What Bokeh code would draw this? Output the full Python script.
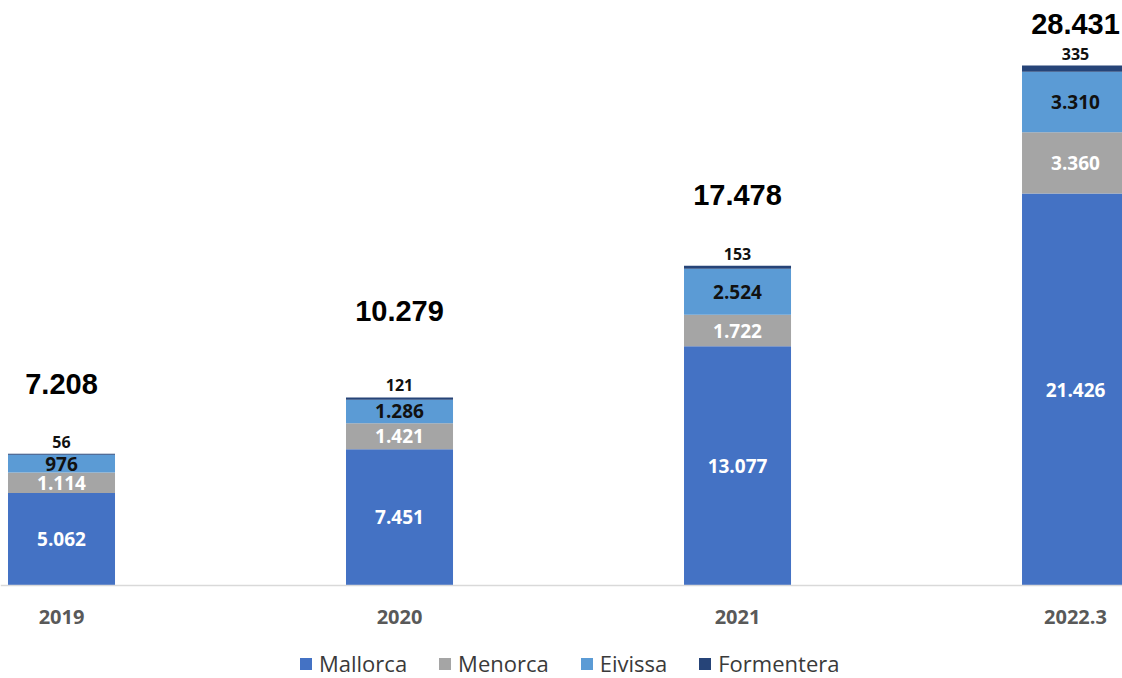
from bokeh.plotting import figure
from bokeh.models import ColumnDataSource, Range1d, FixedTicker, Legend, LegendItem
from bokeh.core.properties import value
from bokeh.embed import file_html
from bokeh.resources import INLINE

# ---- data ----
years = ["2019", "2020", "2021", "2022.3"]
mallorca = [5062, 7451, 13077, 21426]
menorca = [1114, 1421, 1722, 3360]
eivissa = [976, 1286, 2524, 3310]
formentera = [56, 121, 153, 335]
totals = [7208, 10279, 17478, 28431]
series_names = ["Mallorca", "Menorca", "Eivissa", "Formentera"]

# ---- style ----
colors = ["#4472C4", "#A5A5A5", "#5B9BD5", "#264478"]
seg_label_colors = ["white", "white", "#111111", "#111111"]
total_lift = [70, 86, 71, 42]   # px above bar top for total labels
top_label_lift = 12             # px above bar top for Formentera labels


def fmt(v):
    return f"{v:,}".replace(",", ".")


xs = list(range(len(years)))
series = [mallorca, menorca, eivissa, formentera]
keys = ["mallorca", "menorca", "eivissa", "formentera"]
src = ColumnDataSource(dict(x=xs, mallorca=mallorca, menorca=menorca,
                            eivissa=eivissa, formentera=formentera))

unit = max(totals) / 520.0          # data units per pixel
p = figure(frame_width=1122, frame_height=678, output_backend="svg", toolbar_location=None,
           x_range=Range1d(-0.1805, 3.139), y_range=Range1d(-93 * unit, 585 * unit),
           y_axis_location=None, min_border_left=0, min_border_right=0,
           min_border_top=0, min_border_bottom=0)
p.outline_line_color = None
p.xgrid.visible = False
p.ygrid.visible = False

rends = p.vbar_stack(keys, x="x", width=0.3166, color=colors, line_color=None, source=src)

# segment labels (first three series inside bars)
lx, ly, lt, lc = [], [], [], []
for i in range(3):
    for j in range(len(years)):
        base = sum(series[k][j] for k in range(i))
        lx.append(xs[j])
        ly.append(base + series[i][j] / 2.0)
        lt.append(fmt(series[i][j]))
        lc.append(seg_label_colors[i])
p.text(x=lx, y=ly, text=lt, text_color=lc, text_font=value("Open Sans"),
       text_font_style="bold", text_font_size=value("19px"),
       text_align="center", text_baseline="middle")

# Formentera labels above bars
stack_top = [sum(s[j] for s in series) for j in range(len(years))]
p.text(x=xs, y=stack_top, text=[fmt(v) for v in formentera], text_color="#111111",
       text_font=value("Open Sans"), text_font_style="bold", text_font_size=value("16px"),
       text_align="center", text_baseline="middle", y_offset=-top_label_lift)

# totals
p.text(x=xs, y=stack_top, text=[fmt(v) for v in totals], text_color="#000000",
       text_font=value("Liberation Sans"), text_font_style="bold", text_font_size=value("29px"),
       text_align="center", text_baseline="middle", y_offset=[-t for t in total_lift])

# x axis fixed at the baseline
ax = p.xaxis[0]
ax.fixed_location = 0
ax.ticker = FixedTicker(ticks=xs)
ax.major_label_overrides = {x: y for x, y in zip(xs, years)}
ax.major_tick_out = 0
ax.major_tick_in = 0
ax.minor_tick_out = 0
ax.minor_tick_in = 0
ax.axis_line_color = "#D9D9D9"
ax.axis_line_width = 1.5
ax.major_label_standoff = 24
ax.major_label_text_font = "Open Sans"
ax.major_label_text_font_style = "bold"
ax.major_label_text_font_size = "20px"
ax.major_label_text_color = "#595959"

legend = Legend(items=[LegendItem(label=n, renderers=[r]) for n, r in zip(series_names, rends)],
                orientation="horizontal", location=(298, 0))
legend.label_text_font = "Open Sans"
legend.label_text_font_size = "22px"
legend.label_text_color = "#3A3A3A"
legend.glyph_width = 15
legend.glyph_height = 15
legend.label_standoff = 6
legend.spacing = 30
legend.border_line_color = None
legend.background_fill_alpha = 0
legend.padding = 0
legend.margin = 0
p.add_layout(legend, "center")

open("out.html", "w").write(file_html(p, INLINE))
